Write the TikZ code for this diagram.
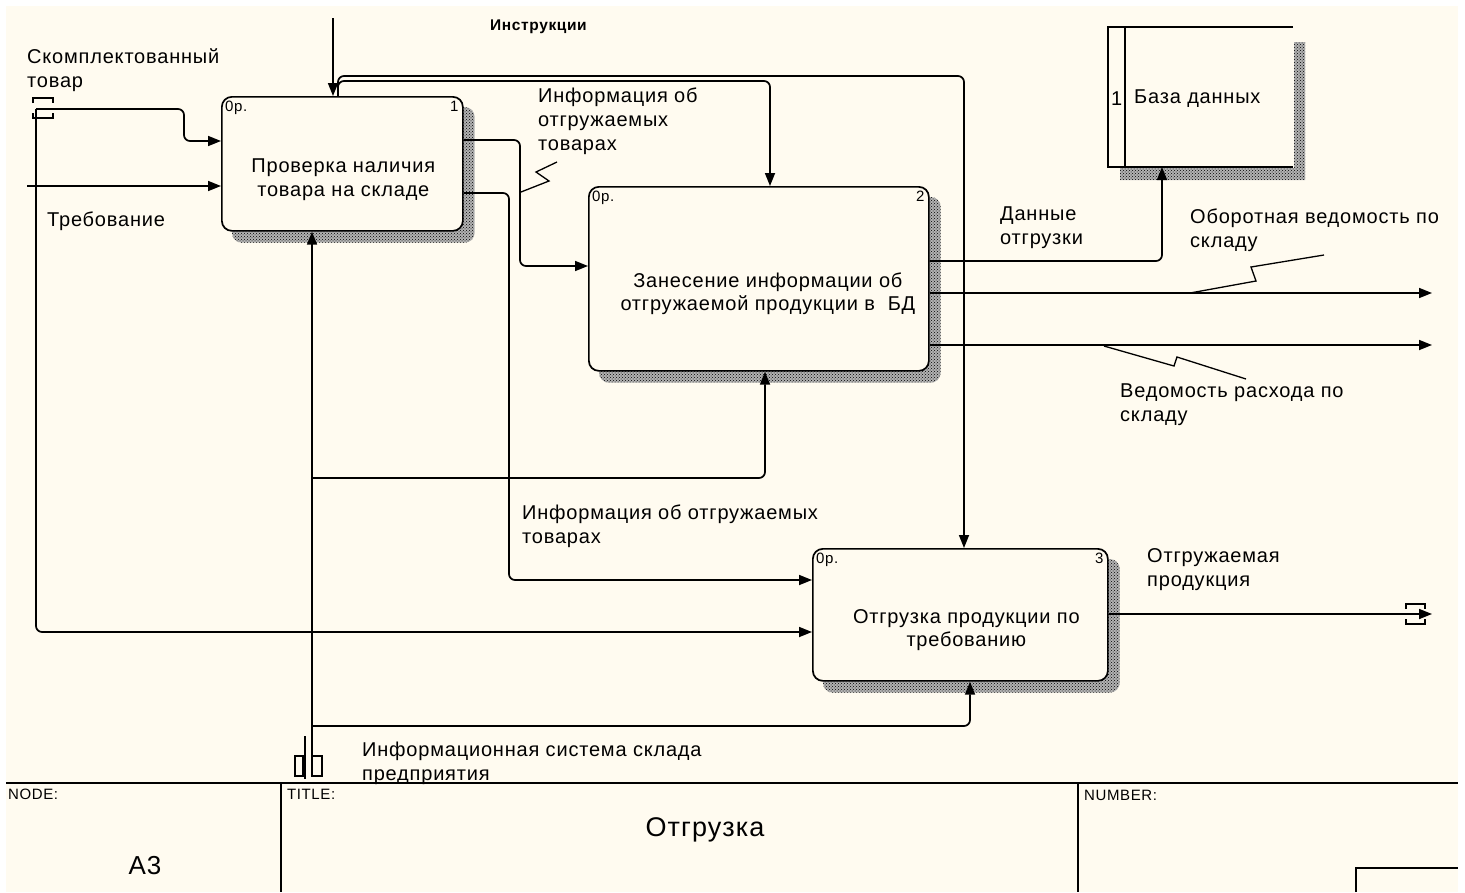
\documentclass[tikz,border=0pt]{standalone}
\usepackage{fontspec}
\setmainfont[LetterSpace=4]{Liberation Sans}
\usetikzlibrary{arrows.meta,calc,patterns,backgrounds,positioning}
\definecolor{paper}{RGB}{255,251,240}
\tikzset{>={Triangle[length=13pt,width=10pt]}}
\tikzstyle{flow}=[line width=1.7pt,rounded corners=6pt]
\tikzstyle{arr}=[flow,->]
\tikzstyle{actbox}=[draw,line width=1.7pt,rounded corners=10pt,fill=paper,anchor=north west,inner sep=0pt]
\tikzstyle{lbl}=[anchor=north west,inner sep=0pt,align=left,font=\fontsize{20}{24}\selectfont]
\tikzstyle{boxtxt}=[inner sep=0pt,align=center,font=\fontsize{20}{23.5}\selectfont]
\tikzstyle{tiny}=[inner sep=0pt,font=\fontsize{15}{17}\selectfont]
\tikzstyle{shadowpat}=[fill=black!30,postaction={pattern=crosshatch dots,pattern color=black}]
\tikzstyle{squig}=[line width=1.3pt]

\begin{document}
\begin{tikzpicture}[x=1pt,y=-1pt]
	\useasboundingbox (0,0) rectangle (1465,892);
	\begin{scope}[on background layer]
		\fill[white] (0,0) rectangle (1465,892);
		\fill[paper] (6,6) rectangle (1458,892);
	\end{scope}
	
	% ACTIVITIES
	\node[actbox,minimum width=241pt,minimum height=134pt] (b1) at (221,96) {};
	\node[actbox,minimum width=340pt,minimum height=184pt] (b2) at (588,186) {};
	\node[actbox,minimum width=295pt,minimum height=132pt] (b3) at (812,548) {};
	\node[boxtxt] (b1t) at ($(b1.center)+(1,16)$) {Проверка наличия\\товара на складе};
	\node[boxtxt] (b2t) at ($(b2.center)+(9,15)$) {Занесение информации об\\отгружаемой продукции в~~БД};
	\node[boxtxt] (b3t) at ($(b3.center)+(6,15)$) {Отгрузка продукции по\\требованию};
	\foreach \b/\n in {b1/1,b2/2,b3/3}{
		\node[tiny,anchor=north west] (\b c) at ($(\b.north west)+(4,5)$) {0р.};
		\node[tiny,anchor=north east] (\b n) at ($(\b.north east)+(-5,5)$) {\n};
	}
	\begin{scope}[on background layer]
		\foreach \b in {b1,b2,b3}
		\path[shadowpat,rounded corners=10pt] ($(\b.north west)+(11,11)$) rectangle ($(\b.south east)+(11,11)$);
	\end{scope}
	
	% DATA STORE
	\path[shadowpat] (1294,42) rectangle (1305,180) (1120,168) rectangle (1294,180);
	\fill[paper] (1108,27) rectangle (1293,167);
	\draw[line width=1.7pt] (1293,27) -- (1108,27) -- (1108,167) -- (1293,167);
	\draw[line width=1.7pt] (1125,27) -- (1125,167);
	\node[lbl,anchor=west] (db) at (1134,99) {База данных};
	\node[lbl,anchor=west] (dbn) at (1111,99) {1};
	
	% FREE ENDS
	\coordinate (ctl) at (333,18);
	\coordinate (tunIn) at (36,109);
	\coordinate (req) at (27,186);
	\coordinate (tunMech) at (312,776);
	\coordinate (outA) at (1432,293);
	\coordinate (outB) at (1432,345);
	\coordinate (outC) at (1432,614);
	
	% TUNNELS
	\draw[line width=1.4pt] (33,103) -- (33,98) -- (53,98) -- (53,103)
	(33,113) -- (33,118) -- (53,118) -- (53,113);
	\draw[line width=1.4pt] (1406,609) -- (1406,604) -- (1425,604) -- (1425,609)
	(1406,619) -- (1406,624) -- (1425,624) -- (1425,619);
	\draw[line width=1.4pt] (295,756) rectangle (303,776) (312,756) rectangle (322,776);
	\draw[line width=1.4pt] (305,736) -- (305,779);
	
	% ARROWS
	\draw[arr] (ctl) -- (ctl |- b1.north);
	\draw[arr] ($(b1.north west)+(117,0)$) |- (770,81) -- (770,0 |- b2.north);
	\draw[arr] ($(b1.north west)+(117,0)$) |- (964,76) -- (964,0 |- b3.north);
	\draw[arr] (tunIn) -| (184,141) -- (b1.west |- 0,141);
	\draw[arr] (tunIn) |- (b3.west |- 0,632);
	\draw[arr] (req) -- (b1.west |- req);
	\draw[arr] (b1.east |- 0,140) -| (520,266) -- (b2.west |- 0,266);
	\draw[arr] (b1.east |- 0,193) -| (509,580) -- (b3.west |- 0,580);
	\draw[arr] (tunMech) -- (tunMech |- b1.south);
	\draw[arr] (312,478) -| (765,0 |- b2.south);
	\draw[arr] (312,726) -| (970,0 |- b3.south);
	\draw[arr] (b2.east |- 0,261) -| (1162,167);
	\draw[arr] (b2.east |- outA) -- (outA);
	\draw[arr] (b2.east |- outB) -- (outB);
	\draw[arr] (b3.east |- outC) -- (outC);
	
	% SQUIGGLES
	\draw[squig] (521,192) -- (549,181) -- (536,172) -- (557,162);
	\draw[squig] (1190,293) -- (1256,281) -- (1251,267) -- (1324,255);
	\draw[squig] (1104,346) -- (1174,366) -- (1177,357) -- (1246,379);
	
	% LABELS
	\node[lbl] (lbIn) at (27,48) {Скомплектованный\\товар};
	\node[lbl] (lbReq) at (47,212) {Требование};
	\node[lbl,font=\fontsize{15.5}{18}\selectfont\bfseries] (lbCtl) at (490,20) {Инструкции};
	\node[lbl] (lbInfoA) at (538,88) {Информация об\\отгружаемых\\товарах};
	\node[lbl] (lbInfoB) at (522,505) {Информация об отгружаемых\\товарах};
	\node[lbl] (lbData) at (1000,207) {Данные\\отгрузки};
	\node[lbl] (lbTurn) at (1190,209) {Оборотная ведомость по\\складу};
	\node[lbl] (lbCons) at (1120,384) {Ведомость расхода по\\складу};
	\node[lbl] (lbProd) at (1147,548) {Отгружаемая\\продукция};
	\node[lbl] (lbMech) at (362,742) {Информационная система склада\\предприятия};
	
	% FOOTER
	\draw[line width=1.3pt] (6,783) -- (1458,783) (281,783) -- (281,892) (1078,783) -- (1078,892)
	(1356,892) -- (1356,868) -- (1458,868);
	\node[tiny,anchor=north west] (fNode) at (8,789) {NODE:};
	\node[tiny,anchor=north west] (fTitle) at (287,789) {TITLE:};
	\node[tiny,anchor=north west] (fNum) at (1084,790) {NUMBER:};
	\node[font=\fontsize{26}{30}\selectfont] (fA) at (145,866) {A3};
	\node[font=\fontsize{27}{30}\selectfont] (fT) at (705,830) {Отгрузка};
\end{tikzpicture}
\end{document}
